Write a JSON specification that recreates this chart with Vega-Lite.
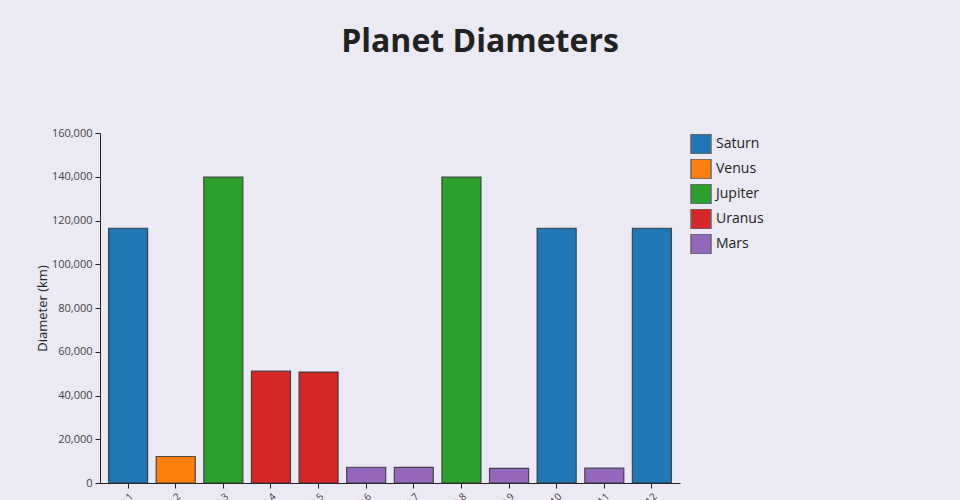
{
  "$schema": "https://vega.github.io/schema/vega-lite/v6.json",
  "width": 580,
  "height": 350,
  "autosize": {"type": "none"},
  "padding": {"left": 100, "top": 133, "right": 280, "bottom": 17},
  "background": "#ebe9f3",
  "title": {
    "text": "Planet Diameters",
    "font": "Open Sans",
    "fontSize": 32,
    "fontWeight": "bold",
    "color": "#222222",
    "anchor": "middle",
    "dx": 90,
    "baseline": "alphabetic",
    "offset": 43
  },
  "config": {
    "view": {"stroke": null},
    "font": "Open Sans",
    "axis": {"labelFont": "Open Sans", "titleFont": "Open Sans", "grid": false}
  },
  "data": {
    "values": [
      {"label": "Planet 1", "planet": "Saturn", "diameter": 116460},
      {"label": "Planet 2", "planet": "Venus", "diameter": 12104},
      {"label": "Planet 3", "planet": "Jupiter", "diameter": 139820},
      {"label": "Planet 4", "planet": "Uranus", "diameter": 51118},
      {"label": "Planet 5", "planet": "Uranus", "diameter": 50724},
      {"label": "Planet 6", "planet": "Mars", "diameter": 7200},
      {"label": "Planet 7", "planet": "Mars", "diameter": 7150},
      {"label": "Planet 8", "planet": "Jupiter", "diameter": 139820},
      {"label": "Planet 9", "planet": "Mars", "diameter": 6700},
      {"label": "Planet 10", "planet": "Saturn", "diameter": 116460},
      {"label": "Planet 11", "planet": "Mars", "diameter": 6779},
      {"label": "Planet 12", "planet": "Saturn", "diameter": 116460}
    ]
  },
  "mark": {"type": "bar", "stroke": "#333333", "strokeWidth": 1.2, "strokeOpacity": 0.85},
  "encoding": {
    "x": {
      "field": "label",
      "type": "nominal",
      "sort": null,
      "scale": {"paddingInner": 0.18, "paddingOuter": 0.18},
      "axis": {
        "title": null,
        "labelAngle": -45,
        "labelFontSize": 10,
        "labelColor": "#444444",
        "tickColor": "#222222",
        "domainColor": "#222222",
        "tickSize": 5,
        "labelPadding": 3
      }
    },
    "y": {
      "field": "diameter",
      "type": "quantitative",
      "scale": {"domain": [0, 160000]},
      "axis": {
        "title": "Diameter (km)",
        "titleFontSize": 13,
        "titleFontWeight": "normal",
        "titleColor": "#222222",
        "titlePadding": 2,
        "labelFontSize": 11,
        "labelColor": "#444444",
        "labelPadding": 3,
        "tickColor": "#222222",
        "domainColor": "#222222",
        "tickSize": 5,
        "tickCount": 8,
        "format": ",d"
      }
    },
    "color": {
      "field": "planet",
      "type": "nominal",
      "scale": {
        "domain": ["Saturn", "Venus", "Jupiter", "Uranus", "Mars"],
        "range": ["#1f77b4", "#ff7f0e", "#2ca02c", "#d62728", "#9467bd"]
      },
      "legend": {
        "title": null,
        "orient": "none",
        "legendX": 590,
        "legendY": 1,
        "symbolType": "square",
        "symbolSize": 400,
        "symbolStrokeColor": "#666666",
        "symbolStrokeWidth": 1.5,
        "symbolOpacity": 1,
        "labelFontSize": 14,
        "labelFont": "Open Sans",
        "labelColor": "#222222",
        "labelOffset": 4,
        "rowPadding": 5,
        "clipHeight": 20
      }
    }
  }
}
